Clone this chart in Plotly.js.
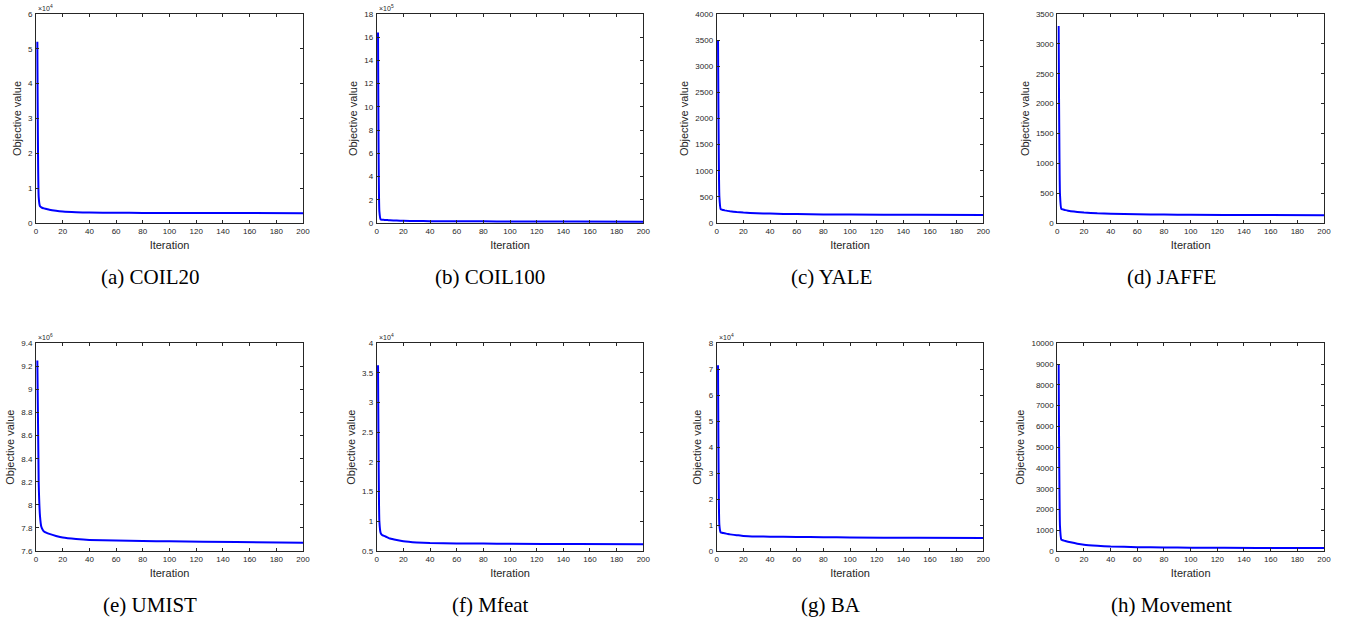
<!DOCTYPE html>
<html>
<head>
<meta charset="utf-8">
<script src="https://cdn.plot.ly/plotly-3.0.1.min.js"></script>
<style>html,body{margin:0;padding:0;background:#fff;}#chart{width:1351px;height:624px;}</style>
</head>
<body>
<div id="chart"></div>
<script>
// Iteration indices
const iterations = [1, 2, 3, 4, 5, 6, 8, 10, 15, 20, 30, 40, 60, 80, 100, 150, 200];

// Objective values (in units of the shown exponent)
const coil20   = [5.2, 0.75, 0.48, 0.45, 0.43, 0.42, 0.40, 0.38, 0.35, 0.33, 0.31, 0.30, 0.295, 0.29, 0.29, 0.285, 0.28];
const coil100  = [16.4, 1.0, 0.30, 0.28, 0.27, 0.26, 0.25, 0.24, 0.21, 0.19, 0.17, 0.16, 0.15, 0.14, 0.13, 0.12, 0.11];
const yale     = [3500, 500, 265, 255, 248, 242, 232, 224, 210, 200, 188, 180, 170, 165, 162, 158, 155];
const jaffe    = [3300, 480, 235, 228, 222, 216, 206, 198, 185, 175, 162, 155, 146, 141, 138, 133, 130];
const umist    = [9.25, 8.2, 7.9, 7.81, 7.785, 7.77, 7.757, 7.748, 7.73, 7.716, 7.703, 7.695, 7.69, 7.686, 7.684, 7.678, 7.672];
const mfeat    = [3.63, 1.0, 0.80, 0.77, 0.76, 0.75, 0.73, 0.71, 0.685, 0.665, 0.645, 0.635, 0.628, 0.625, 0.622, 0.618, 0.615];
const ba       = [7.15, 1.0, 0.72, 0.70, 0.69, 0.68, 0.66, 0.64, 0.61, 0.58, 0.56, 0.55, 0.54, 0.53, 0.52, 0.51, 0.50];
const movement = [9000, 1200, 550, 520, 500, 480, 450, 420, 350, 300, 250, 215, 185, 170, 160, 148, 140];

const seriesList = [coil20, coil100, yale, jaffe, umist, mfeat, ba, movement];
const captions = ["(a) COIL20", "(b) COIL100", "(c) YALE", "(d) JAFFE", "(e) UMIST", "(f) Mfeat", "(g) BA", "(h) Movement"];
const exponents = ["4", "5", "", "", "6", "4", "4", ""];
const yRanges = [[0, 6], [0, 18], [0, 4000], [0, 3500], [7.6, 9.4], [0.5, 4], [0, 8], [0, 10000]];
const yDticks = [1, 2, 500, 500, 0.2, 0.5, 1, 1000];
const xTickVals = [0, 20, 40, 60, 80, 100, 120, 140, 160, 180, 200];

// Layout geometry (pixels)
const W = 1351, H = 624;
const colX = [[36, 303], [376.7, 643.3], [716.7, 983.3], [1057.3, 1324]];
const rowY = [[14, 223], [343.3, 551]];
const capX = [150, 490, 831, 1171];
const capY = [277, 605];

const traces = [];
const layout = {
  width: W, height: H,
  margin: {l: 0, r: 0, t: 0, b: 0},
  paper_bgcolor: "#ffffff",
  plot_bgcolor: "#ffffff",
  showlegend: false,
  annotations: [],
  font: {family: "Liberation Sans, Arial, sans-serif", color: "#262626"}
};

for (let i = 0; i < 8; i++) {
  const r = Math.floor(i / 4), c = i % 4;
  const xa = i === 0 ? "xaxis" : "xaxis" + (i + 1);
  const ya = i === 0 ? "yaxis" : "yaxis" + (i + 1);
  const xr = i === 0 ? "x" : "x" + (i + 1);
  const yr = i === 0 ? "y" : "y" + (i + 1);
  traces.push({
    x: iterations, y: seriesList[i], xaxis: xr, yaxis: yr,
    type: "scatter", mode: "lines",
    line: {color: "#0000ff", width: 2, shape: "spline", smoothing: 0.4},
    hoverinfo: "x+y"
  });
  const common = {
    showgrid: false, zeroline: false, showline: true, mirror: "ticks",
    linecolor: "#262626", linewidth: 1,
    ticks: "inside", ticklen: 3, tickwidth: 1, tickcolor: "#262626",
    tickfont: {size: 8, color: "#262626", family: "Liberation Sans, Arial, sans-serif"},
    fixedrange: true
  };
  layout[xa] = Object.assign({}, common, {
    domain: [colX[c][0] / W, colX[c][1] / W],
    anchor: yr,
    range: [0, 200],
    tickvals: xTickVals,
    title: {text: "Iteration", font: {size: 11, color: "#262626"}, standoff: 6}
  });
  layout[ya] = Object.assign({}, common, {
    domain: [1 - rowY[r][1] / H, 1 - rowY[r][0] / H],
    anchor: xr,
    range: yRanges[i],
    dtick: yDticks[i],
    tick0: yRanges[i][0],
    tickformat: yRanges[i][1] >= 1000 ? "d" : "",
    ticklabelstandoff: 1,
    title: {text: "Objective value", font: {size: 11, color: "#262626"}, standoff: 4}
  });
  if (exponents[i]) {
    layout.annotations.push({
      xref: "paper", yref: "paper",
      x: colX[c][0] / W, y: 1 - rowY[r][0] / H,
      xanchor: "left", yanchor: "bottom",
      text: "×10<sup>" + exponents[i] + "</sup>",
      showarrow: false,
      font: {size: 7, color: "#262626", family: "Liberation Sans, Arial, sans-serif"}
    });
  }
  layout.annotations.push({
    xref: "paper", yref: "paper",
    x: capX[c] / W, y: 1 - capY[r] / H,
    xanchor: "center", yanchor: "middle",
    text: captions[i],
    showarrow: false,
    font: {size: 21, color: "#000000", family: "Liberation Serif, Times New Roman, serif"}
  });
}

Plotly.newPlot("chart", traces, layout, {displayModeBar: false, staticPlot: true});
</script>
</body>
</html>
